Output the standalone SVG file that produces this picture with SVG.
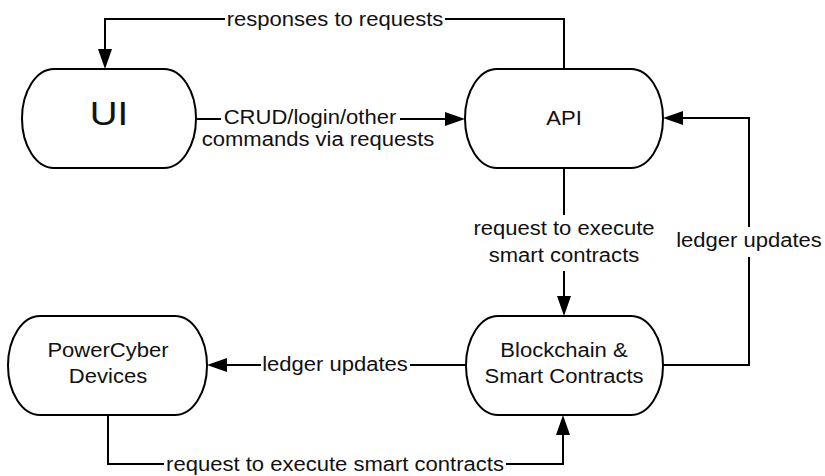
<svg xmlns="http://www.w3.org/2000/svg" width="825" height="476" viewBox="0 0 825 476">
<style>
.node{fill:#fff;stroke:#000;stroke-width:2}
.conn{fill:none;stroke:#000;stroke-width:2}
.t{font-family:"Liberation Sans",Arial,sans-serif;font-size:19.5px;fill:#111;text-anchor:middle}
.big{font-size:34px}
.bg{fill:#fff}
</style>
<defs>
<marker id="ah" viewBox="0 0 20 14" refX="10" refY="7" markerWidth="20" markerHeight="14" markerUnits="userSpaceOnUse" orient="auto">
<path d="M0,0 L20,7 L0,14 z" fill="#000"/>
</marker>
</defs>
<rect width="825" height="476" fill="#fff"/>
<g id="connectors">
<path class="conn" d="M564,69 V19 H105 V59" marker-end="url(#ah)"/>
<path class="conn" d="M196,119 H455" marker-end="url(#ah)"/>
<path class="conn" d="M564,168 V306" marker-end="url(#ah)"/>
<path class="conn" d="M663,365 H749 V118 H673" marker-end="url(#ah)"/>
<path class="conn" d="M466,365 H217" marker-end="url(#ah)"/>
<path class="conn" d="M108,415 V464 H563 V425" marker-end="url(#ah)"/>
<rect class="bg" x="225" y="8" width="220" height="24"/>
<text class="t" transform="translate(335,26) scale(1.13,1)">responses to requests</text>
<rect class="bg" x="221" y="106" width="179" height="24"/>
<text class="t" transform="translate(310,124) scale(1.13,1)">CRUD/login/other</text>
<text class="t" transform="translate(318,146) scale(1.13,1)">commands via requests</text>
<rect class="bg" x="472" y="215" width="184" height="56"/>
<text class="t" transform="translate(564,235) scale(1.13,1)">request to execute</text>
<text class="t" transform="translate(564,262) scale(1.13,1)">smart contracts</text>
<rect class="bg" x="675" y="227" width="148" height="30"/>
<text class="t" transform="translate(749,247) scale(1.13,1)">ledger updates</text>
<rect class="bg" x="261" y="353" width="149" height="24"/>
<text class="t" transform="translate(335,371) scale(1.13,1)">ledger updates</text>
<rect class="bg" x="164" y="452" width="342" height="24"/>
<text class="t" transform="translate(335,471) scale(1.13,1)">request to execute smart contracts</text>
</g>
<g id="node-ui">
<rect class="node" x="22" y="69" width="174" height="99" rx="32" ry="49.5"/>
<text class="t big" transform="translate(109,125) scale(1.13,1)">UI</text>
</g>
<g id="node-api">
<rect class="node" x="465" y="69" width="198" height="99" rx="32" ry="49.5"/>
<text class="t" transform="translate(564,125) scale(1.13,1)">API</text>
</g>
<g id="node-blockchain">
<rect class="node" x="466" y="316" width="197" height="99" rx="32" ry="49.5"/>
<text class="t" transform="translate(564,357) scale(1.13,1)">Blockchain &amp;</text>
<text class="t" transform="translate(564,383) scale(1.13,1)">Smart Contracts</text>
</g>
<g id="node-powercyber">
<rect class="node" x="8" y="316" width="199" height="99" rx="32" ry="49.5"/>
<text class="t" transform="translate(108,357) scale(1.13,1)">PowerCyber</text>
<text class="t" transform="translate(108,383) scale(1.13,1)">Devices</text>
</g>
</svg>
